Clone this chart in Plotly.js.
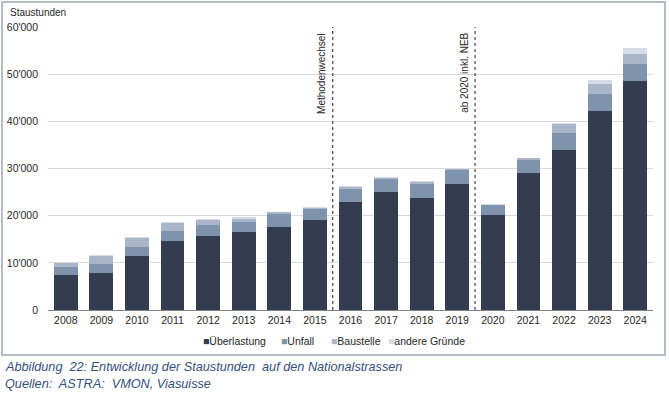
<!DOCTYPE html>
<html>
<head>
<meta charset="utf-8">
<script src="https://cdn.plot.ly/plotly-3.0.1.min.js"></script>
<style>
html,body{margin:0;padding:0;background:#fff;}
#chart{width:669px;height:396px;}
</style>
</head>
<body>
<div id="chart"></div>
<script>
const years = ["2008","2009","2010","2011","2012","2013","2014","2015","2016","2017","2018","2019","2020","2021","2022","2023","2024"];
const ueberlastung = [7500, 7900, 11400, 14700, 15700, 16500, 17700, 19000, 23000, 25000, 23800, 26800, 20100, 29000, 33900, 42200, 48600];
const unfall       = [1700, 1850, 2000, 2100, 2400, 2200, 2600, 2400, 2700, 2800, 2850, 2900, 2100, 2900, 3700, 3600, 3500];
const baustelle    = [ 700, 1750, 1800, 1600,  900,  700,  400,  300,  400,  200,  500,  200,  150,  300, 1800, 2200, 2200];
const andere       = [ 100,  200,  200,  200,  200,  300,  100,  100,  200,  100,  150,  100,  100,  100,  300,  700, 1200];
const seriesNames = ["Überlastung", "Unfall", "Baustelle", "andere Gründe"];
const seriesColors = ["#333d4f", "#7f93ad", "#aab5c8", "#d6dce6"];
const yTicks = [0, 10000, 20000, 30000, 40000, 50000, 60000];
const yTickText = ["0", "10'000", "20'000", "30'000", "40'000", "50'000", "60'000"];
const markers = [{pos: 7.5, text: "Methodenwechsel"}, {pos: 11.5, text: "ab 2020 inkl. NEB"}];

const values = [ueberlastung, unfall, baustelle, andere];
const font = "Liberation Sans, Arial, sans-serif";

const traces = values.map((v, i) => ({
  type: "bar",
  x: years,
  y: v,
  name: seriesNames[i],
  marker: {color: seriesColors[i], line: {width: 0}},
  hoverinfo: "x+y+name",
  showlegend: false
}));

const shapes = [];
const annotations = [];
markers.forEach(m => {
  shapes.push({type: "line", xref: "x", yref: "paper", x0: m.pos, x1: m.pos, y0: 0, y1: 1,
    line: {color: "#404040", width: 1.2, dash: "dot"}});
  annotations.push({xref: "x", yref: "paper", x: m.pos, y: 0.985, text: m.text, textangle: -90,
    showarrow: false, xanchor: "right", yanchor: "top", xshift: -3,
    font: {family: font, size: 10, color: "#262626"}});
});
// outer frame
shapes.push({type: "rect", xref: "paper", yref: "paper", x0: -0.076, x1: 1.0198, y0: -0.159, y1: 1.088,
  line: {color: "#b3bbc7", width: 2}, layer: "below"});

// legend built as text entries
const legendX = [0.2529, 0.3818, 0.4645, 0.5587];
seriesNames.forEach((n, i) => {
  annotations.push({xref: "paper", yref: "paper", x: legendX[i], y: -0.11,
    text: '<span style="color:' + seriesColors[i] + '">■</span>' + n, showarrow: false,
    xanchor: "left", yanchor: "middle", font: {family: font, size: 10.5, color: "#262626"}});
});

annotations.push({xref: "paper", yref: "paper", x: -0.066, y: 1.053, text: "Staustunden", showarrow: false,
  xanchor: "left", yanchor: "middle", font: {family: font, size: 10, color: "#262626"}});
annotations.push({xref: "paper", yref: "paper", x: -0.0744, y: -0.201,
  text: "<i>Abbildung  22: Entwicklung der Staustunden  auf den Nationalstrassen</i>", showarrow: false,
  xanchor: "left", yanchor: "middle", font: {family: font, size: 12.7, color: "#34507e"}});
annotations.push({xref: "paper", yref: "paper", x: -0.0744, y: -0.263,
  text: "<i>Quellen:  ASTRA:  VMON, Viasuisse</i>", showarrow: false,
  xanchor: "left", yanchor: "middle", font: {family: font, size: 12.7, color: "#34507e"}});

const layout = {
  width: 669, height: 396,
  margin: {l: 48, r: 16, t: 27, b: 86},
  paper_bgcolor: "#ffffff", plot_bgcolor: "#ffffff",
  barmode: "stack",
  bargap: 0.33,
  font: {family: font, size: 10, color: "#262626"},
  xaxis: {type: "category", showgrid: false, showline: true, linecolor: "#808080", linewidth: 1,
    ticks: "", tickfont: {family: font, size: 10.5, color: "#262626"}, fixedrange: true},
  yaxis: {range: [0, 60000], tickvals: yTicks, ticktext: yTickText, showgrid: true, gridcolor: "#d9d9d9",
    gridwidth: 1, zeroline: false, showline: false, ticks: "", ticklabelstandoff: 9,
    tickfont: {family: font, size: 10.5, color: "#262626"}, fixedrange: true},
  showlegend: false,
  shapes: shapes,
  annotations: annotations
};

Plotly.newPlot("chart", traces, layout, {displayModeBar: false, staticPlot: true});
</script>
</body>
</html>
